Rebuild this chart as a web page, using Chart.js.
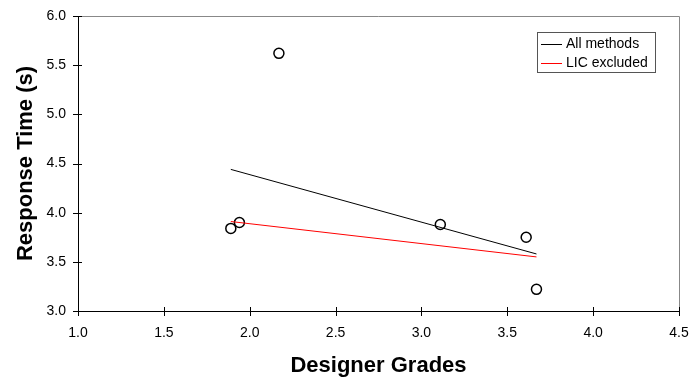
<!DOCTYPE html>
<html>
<head>
<meta charset="utf-8">
<script src="https://cdn.jsdelivr.net/npm/chart.js@4/dist/chart.umd.min.js"></script>
<style>
  html, body { margin: 0; padding: 0; background: #fff; }
  #wrap { width: 692px; height: 381px; position: relative; }
</style>
</head>
<body>
<div id="wrap"><canvas id="chart"></canvas></div>
<script>
// observed points
const gradeX = [1.89, 1.94, 2.17, 3.11, 3.61, 3.67];
const responseY = [3.84, 3.90, 5.62, 3.88, 3.75, 3.22];

// trend lines (end points)
const fitAllX = [1.89, 3.67];
const fitAllY = [4.44, 3.58];
const fitExclX = [1.89, 3.67];
const fitExclY = [3.91, 3.55];

const xTicks = [1.0, 1.5, 2.0, 2.5, 3.0, 3.5, 4.0, 4.5];
const yTicks = [3.0, 3.5, 4.0, 4.5, 5.0, 5.5, 6.0];

const FONT = "'Liberation Sans', Arial, sans-serif";

const toPoints = (xs, ys) => xs.map((x, i) => ({ x, y: ys[i] }));

// top/right frame lines, tick marks crossing the axes
const framePlugin = {
  id: 'frame',
  afterDraw(chart) {
    const { ctx, chartArea: a, scales: { x, y } } = chart;
    ctx.save();
    ctx.lineWidth = 1;
    ctx.strokeStyle = '#888';
    ctx.beginPath();
    ctx.moveTo(a.left, a.top + 0.5);
    ctx.lineTo(a.right + 0.5, a.top + 0.5);
    ctx.lineTo(a.right + 0.5, a.bottom);
    ctx.stroke();
    ctx.strokeStyle = '#000';
    ctx.beginPath();
    xTicks.forEach((v) => {
      const px = Math.round(x.getPixelForValue(v)) + 0.5;
      ctx.moveTo(px, a.bottom + 5);
      ctx.lineTo(px, a.bottom - 4);
    });
    yTicks.forEach((v) => {
      const py = Math.round(y.getPixelForValue(v)) + 0.5;
      ctx.moveTo(a.left - 5, py);
      ctx.lineTo(a.left + 4, py);
    });
    ctx.stroke();
    ctx.restore();
  },
};

// boxed legend inside the plot
const legendPlugin = {
  id: 'boxLegend',
  afterDraw(chart) {
    const { ctx } = chart;
    const items = chart.data.datasets.filter((d) => d.inLegend);
    const bx = 537, by = 32, bw = 118, bh = 40, row = 19;
    ctx.save();
    ctx.fillStyle = '#fff';
    ctx.fillRect(bx, by, bw, bh);
    ctx.strokeStyle = '#555';
    ctx.lineWidth = 1;
    ctx.strokeRect(bx + 0.5, by + 0.5, bw, bh);
    ctx.font = '14px ' + FONT;
    ctx.textBaseline = 'middle';
    ctx.fillStyle = '#000';
    items.forEach((d, i) => {
      const ly = by + 12 + i * row + 0.5;
      ctx.strokeStyle = d.borderColor;
      ctx.beginPath();
      ctx.moveTo(bx + 4, ly);
      ctx.lineTo(bx + 25, ly);
      ctx.stroke();
      ctx.fillText(d.label, bx + 29, ly);
    });
    ctx.restore();
  },
};

new Chart(document.getElementById('chart'), {
  type: 'scatter',
  data: {
    datasets: [
      {
        label: 'All methods',
        inLegend: true,
        type: 'line',
        data: toPoints(fitAllX, fitAllY),
        borderColor: '#000000',
        borderWidth: 1,
        pointRadius: 0,
        fill: false,
      },
      {
        label: 'LIC excluded',
        inLegend: true,
        type: 'line',
        data: toPoints(fitExclX, fitExclY),
        borderColor: '#ff0000',
        borderWidth: 1,
        pointRadius: 0,
        fill: false,
      },
      {
        label: 'Data',
        data: toPoints(gradeX, responseY),
        pointStyle: 'circle',
        pointRadius: 5,
        borderWidth: 1.5,
        borderColor: '#000',
        backgroundColor: 'rgba(0,0,0,0)',
      },
    ],
  },
  options: {
    responsive: true,
    maintainAspectRatio: false,
    animation: false,
    layout: { padding: { top: 16, right: 13, left: 0, bottom: 0 } },
    plugins: {
      legend: { display: false },
      tooltip: { enabled: false },
    },
    scales: {
      x: {
        type: 'linear',
        min: 1.0,
        max: 4.5,
        afterFit: (s) => { s.height = 70; },
        afterBuildTicks: (s) => { s.ticks = xTicks.map((v) => ({ value: v })); },
        // tick marks are drawn by the frame plugin; the spacer keeps labels clear
        grid: { drawOnChartArea: false, drawTicks: true, tickLength: 14, tickColor: 'rgba(0,0,0,0)' },
        border: { color: '#000', width: 1 },
        ticks: {
          padding: 0,
          color: '#000',
          font: { family: FONT, size: 14 },
          callback: (v) => v.toFixed(1),
        },
        title: {
          display: true,
          text: 'Designer Grades',
          color: '#000',
          font: { family: FONT, size: 22, weight: 'bold' },
          padding: { top: 0, bottom: 2 },
        },
      },
      y: {
        type: 'linear',
        min: 3.0,
        max: 6.0,
        afterFit: (s) => { s.width = 78; },
        afterBuildTicks: (s) => { s.ticks = yTicks.map((v) => ({ value: v })); },
        grid: { drawOnChartArea: false, drawTicks: true, tickLength: 5, tickColor: 'rgba(0,0,0,0)' },
        border: { color: '#000', width: 1 },
        ticks: {
          padding: 7,
          color: '#000',
          font: { family: FONT, size: 14 },
          callback: (v) => v.toFixed(1),
        },
        title: {
          display: true,
          text: 'Response Time (s)',
          color: '#000',
          font: { family: FONT, size: 22, weight: 'bold' },
          padding: { top: 13, bottom: 0 },
        },
      },
    },
  },
  plugins: [framePlugin, legendPlugin],
});
</script>
</body>
</html>
